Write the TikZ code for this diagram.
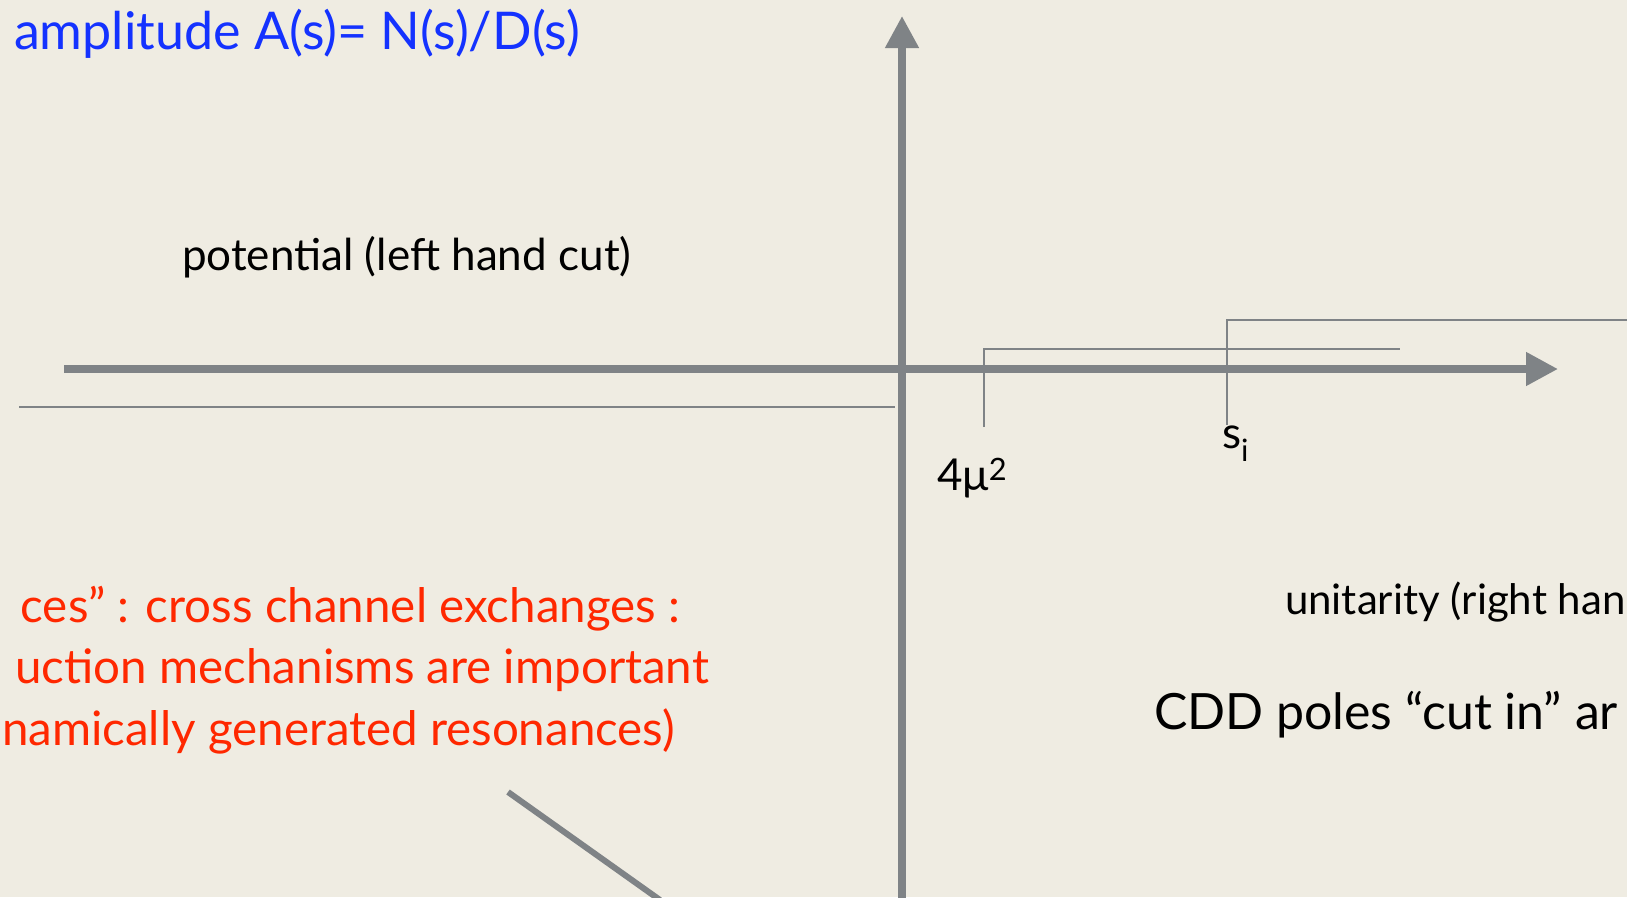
\documentclass[tikz,border=0pt]{standalone}
\usepackage{fontspec}
\setmainfont{Lato}
\usetikzlibrary{arrows.meta}
\definecolor{bg}{RGB}{239,236,226}
\definecolor{axisgray}{RGB}{127,131,134}
\definecolor{titleblue}{RGB}{20,50,255}
\definecolor{redtext}{RGB}{255,40,0}
\tikzset{
  axisline/.style={draw=axisgray,line width=7.5pt,-{Triangle[length=32pt,width=32pt]}},
  cutline/.style={draw=axisgray,line width=2.6pt},
  thickline/.style={draw=axisgray,line width=6pt},
  lbl/.style={inner sep=0pt,outer sep=0pt,font=\fontsize{44}{48}\selectfont},
  redlbl/.style={inner sep=0pt,outer sep=0pt,text=redtext,anchor=base east,font=\fontsize{47.5}{52}\selectfont},
}
\begin{document}
\begin{tikzpicture}[x=1pt,y=-1pt]
\useasboundingbox (0,0) rectangle (1627,897);
\fill[bg] (0,0) rectangle (1627,897);
\clip (0,0) rectangle (1627,897);
% coordinates
\coordinate (hl) at (64,369);
\coordinate (hr) at (1558,369);
\coordinate (vb) at (902,900);
\coordinate (vt) at (902,16);
\coordinate (lcL) at (19,407);
\coordinate (lcR) at (895,407);
\coordinate (m4b) at (984,427);
\coordinate (m4t) at (984,349);
\coordinate (m4r) at (1400,349);
\coordinate (sib) at (1227,425);
\coordinate (sit) at (1227,320);
\coordinate (sir) at (1630,320);
\coordinate (dgA) at (508,792);
\coordinate (dgB) at (660,900);
% lines
\draw[cutline] (lcL) -- (lcR);
\draw[cutline] (m4b) -- (m4t) -- (m4r);
\draw[cutline] (sib) -- (sit) -- (sir);
\draw[axisline] (hl) -- (hr);
\draw[axisline] (vb) -- (vt);
\draw[thickline] (dgA) -- (dgB);
% texts
\node[inner sep=0pt,outer sep=0pt,font=\fontsize{52}{58}\selectfont,text=titleblue,anchor=base west] (title) at (14,49) {amplitude A(s)= N(s)/D(s)};
\node[lbl,anchor=base west] (pot) at (182,270) {potential (left hand cut)};
\node[lbl,anchor=base west] (fourmu) at (937,490) {4μ\textsuperscript{2}};
\node[lbl,anchor=base west] (si) at (1222,448) {s\textsubscript{i}};
\node[inner sep=0pt,outer sep=0pt,font=\fontsize{42}{46}\selectfont,anchor=base west] (unit) at (1285,614) {unitarity (right han};
\node[inner sep=0pt,outer sep=0pt,font=\fontsize{50}{55}\selectfont,anchor=base west] (cdd) at (1154,729) {CDD poles “cut in” ar};
\node[redlbl] (red1) at (680,622) {ces” : cross channel exchanges :};
\node[redlbl] (red2) at (709,683) {uction mechanisms are important};
\node[redlbl] (red3) at (675,745) {namically generated resonances)};
\end{tikzpicture}
\end{document}
